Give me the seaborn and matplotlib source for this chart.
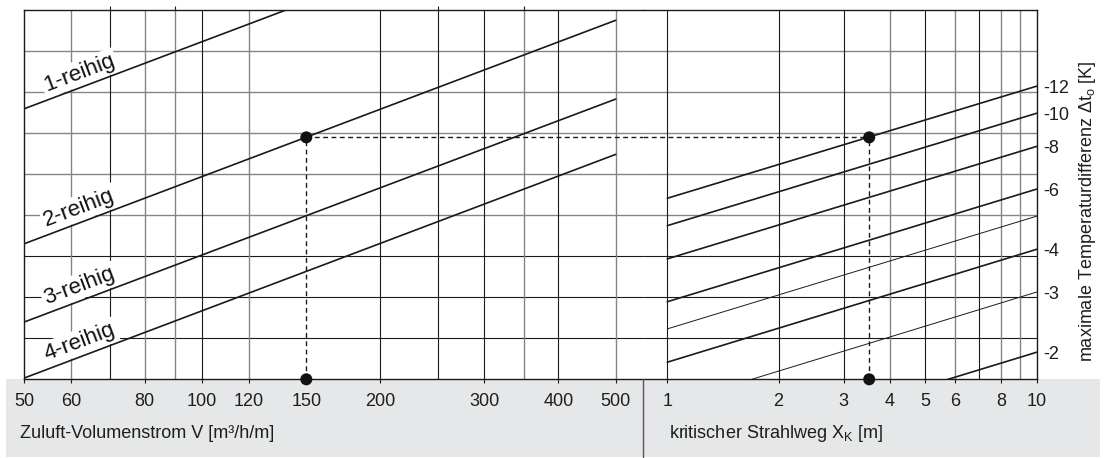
import numpy as np
import matplotlib
matplotlib.use("Agg")
import matplotlib.pyplot as plt
from matplotlib.patches import Rectangle
from matplotlib.lines import Line2D
from matplotlib.ticker import NullLocator, NullFormatter, FixedLocator, FixedFormatter
import seaborn as sns

# ---------------- data ----------------
# left panel: supply air volume flow V [m3/h/m] vs max. temperature difference
V_range = [50, 500]
row_labels = ["1-reihig", "2-reihig", "3-reihig", "4-reihig"]
dt_at_V50 = [10.3, 4.15, 2.45, 1.68]
dt_at_V500 = [46.3, 18.7, 11.0, 7.58]

# right panel: critical jet path X_K [m]
X_range = [1, 10]
dt_at_X10 = [12, 10, 8, 6, 5, 4, 3, 2]
dt_at_X1 = [5.64, 4.69, 3.75, 2.81, 2.34, 1.87, 1.40, 0.935]
thin_curve = [False, False, False, False, True, False, True, False]

# example reading
V_example = 150
X_example = 3.52
dt_example = 8.5

# ticks / grid
V_ticks = [50, 60, 80, 100, 120, 150, 200, 300, 400, 500]
V_grid = [60, 70, 80, 90, 100, 120, 200, 250, 300, 350, 400, 500]
V_grid_gray = [True, False, True, True, False, True, False, False, False, True, False, True]
V_top_ticks = [70, 90, 250, 350]
X_ticks = [1, 2, 3, 4, 5, 6, 8, 10]
X_grid = [1, 2, 3, 4, 5, 6, 7, 8, 9]
X_grid_gray = [False, False, False, True, False, True, False, True, True]
dt_ticks = [2, 3, 4, 6, 8, 10, 12]
dt_ticklabels = ["-2", "-3", "-4", "-6", "-8", "-10", "-12"]
y_min, y_max = 20 / 12, 20
n_hgrid = 9
h_grid_gray = [False, False, False, True, True, True, True, True]

# ---------------- style ----------------
sns.set_theme(style="white")
plt.rcParams["font.family"] = ["Liberation Sans", "DejaVu Sans"]
plt.rcParams["axes.unicode_minus"] = False

W, H = 1108, 458
fig = plt.figure(figsize=(W / 100, H / 100), dpi=100)
fig.patch.set_facecolor("white")

def fx(px):
    return px / W

def fy(py):
    return 1 - py / H

top_px, bot_px = 10.3, 379.3
split_px = 643
ax_l = fig.add_axes([fx(24), fy(bot_px), fx(split_px - 24), (bot_px - top_px) / H])
ax_r = fig.add_axes([fx(split_px), fy(bot_px), fx(1036.7 - split_px), (bot_px - top_px) / H])

# gray band at bottom
fig.add_artist(Rectangle((fx(6), fy(457)), fx(1100 - 6), (457 - bot_px) / H,
                         transform=fig.transFigure, facecolor="#e6e7e8",
                         edgecolor="none", zorder=0))
fig.add_artist(Line2D([fx(split_px)] * 2, [fy(bot_px), fy(457)],
                      transform=fig.transFigure, color="#555555", lw=1.0, zorder=1))

BLACK = "#1a1a1a"
GRAY = "#858585"
TXT = "#1e1e1e"

for ax in (ax_l, ax_r):
    ax.set_xscale("log")
    ax.set_yscale("log")
    ax.set_ylim(y_min, y_max)
    ax.set_facecolor("white")
    for s in ax.spines.values():
        s.set_color(BLACK)
        s.set_linewidth(1.0)

# x-limits so that 50 -> px 24, 500 -> px 615.7 ; 1 -> px 667.3, 10 -> px 1036.7
dec_l = (615.7 - 24) / 1.0
ax_l.set_xlim(50, 500 * 10 ** ((split_px - 615.7) / dec_l))
dec_r = (1036.7 - 667.3)
ax_r.set_xlim(10 ** (-(667.3 - split_px) / dec_r), 10)

ax_l.spines["right"].set_visible(False)
ax_r.spines["left"].set_visible(False)

# horizontal grid (evenly spaced in log space)
h_grid = np.geomspace(y_min, y_max, n_hgrid + 1)[1:-1]
for ax in (ax_l, ax_r):
    for yv, g in zip(h_grid, h_grid_gray):
        ax.axhline(yv, color=GRAY if g else BLACK, lw=1.0 if g else 0.8, zorder=1)

for xv, g in zip(V_grid, V_grid_gray):
    ax_l.axvline(xv, color=GRAY if g else BLACK, lw=1.0 if g else 0.8, zorder=1)
for xv, g in zip(X_grid, X_grid_gray):
    ax_r.axvline(xv, color=GRAY if g else BLACK, lw=1.0 if g else 0.8, zorder=1)

# ticks
for ax, ticks in ((ax_l, V_ticks), (ax_r, X_ticks)):
    ax.xaxis.set_major_locator(FixedLocator(ticks))
    ax.xaxis.set_major_formatter(FixedFormatter([f"{t:g}" for t in ticks]))
    ax.xaxis.set_minor_locator(NullLocator())
    ax.xaxis.set_minor_formatter(NullFormatter())
    ax.yaxis.set_minor_locator(NullLocator())
    ax.yaxis.set_minor_formatter(NullFormatter())
    ax.tick_params(axis="x", which="major", bottom=True, direction="out", length=3,
                   width=0.8, color=BLACK, pad=7, labelsize=13, labelcolor=TXT)

ax_l.set_yticks([])
ax_r.yaxis.tick_right()
ax_r.yaxis.set_major_locator(FixedLocator(dt_ticks))
ax_r.yaxis.set_major_formatter(FixedFormatter(dt_ticklabels))
ax_r.tick_params(axis="y", which="both", length=0, pad=4.5, labelsize=13,
                 labelcolor=TXT, right=True, left=False)

sec = ax_l.secondary_xaxis("top")
sec.set_xticks(V_top_ticks)
sec.xaxis.set_minor_locator(NullLocator())
sec.tick_params(axis="x", which="major", direction="out", length=3, width=0.8,
                color=BLACK, labeltop=False)
sec.spines["top"].set_visible(False)

# curves left
for i, name in enumerate(row_labels):
    sns.lineplot(x=V_range, y=[dt_at_V50[i], dt_at_V500[i]], ax=ax_l, color=BLACK,
                 lw=1.2, zorder=3)
    slope = np.log10(dt_at_V500[i] / dt_at_V50[i]) / np.log10(V_range[1] / V_range[0])
    xl = 62
    yl = dt_at_V50[i] * (xl / V_range[0]) ** slope
    p0 = ax_l.transData.transform((V_range[0], dt_at_V50[i]))
    p1 = ax_l.transData.transform((V_range[1], dt_at_V500[i]))
    ang = np.degrees(np.arctan2(p1[1] - p0[1], p1[0] - p0[0]))
    ax_l.annotate(name, xy=(xl, yl), xytext=(0, 15), textcoords="offset pixels",
                  ha="center", va="center", rotation=ang, rotation_mode="anchor",
                  fontsize=16, color="#111111", zorder=2,
                  bbox=dict(boxstyle="square,pad=0.1", fc="white", ec="none"))

# curves right
for i in range(len(dt_at_X10)):
    sns.lineplot(x=X_range, y=[dt_at_X1[i], dt_at_X10[i]], ax=ax_r, color=BLACK,
                 lw=0.7 if thin_curve[i] else 1.2, zorder=3)

# example reading (dashed)
xl_max = ax_l.get_xlim()[1]
xr_min = ax_r.get_xlim()[0]
dash = dict(color=BLACK, lw=1.0, ls=(0, (3.5, 2.5)), zorder=4)
ax_l.plot([V_example, V_example], [y_min, dt_example], **dash)
ax_l.plot([V_example, xl_max], [dt_example, dt_example], **dash)
ax_r.plot([xr_min, X_example], [dt_example, dt_example], **dash)
ax_r.plot([X_example, X_example], [y_min, dt_example], **dash)

sns.scatterplot(x=[V_example, V_example], y=[dt_example, y_min], ax=ax_l, s=75,
                color="#111111", edgecolor="none", clip_on=False, zorder=6)
sns.scatterplot(x=[X_example, X_example], y=[dt_example, y_min], ax=ax_r, s=75,
                color="#111111", edgecolor="none", clip_on=False, zorder=6)

for ax in (ax_l, ax_r):
    ax.set_xlabel("")
    ax.set_ylabel("")
    if ax.get_legend():
        ax.get_legend().remove()

# axis titles
fig.text(fx(20), fy(433), "Zuluft-Volumenstrom V [m³/h/m]", ha="left", va="center",
         fontsize=13, color=TXT)
fig.text(fx(669), fy(433), "kritischer Strahlweg X$_\\mathregular{K}$ [m]", ha="left",
         va="center", fontsize=13, color=TXT)
fig.text(fx(1087), fy(211.5), "maximale Temperaturdifferenz Δt$_\\mathregular{o}$ [K]",
         ha="center", va="center", rotation=90, fontsize=13, color=TXT)

fig.savefig("out.png", dpi=100, facecolor="white")
